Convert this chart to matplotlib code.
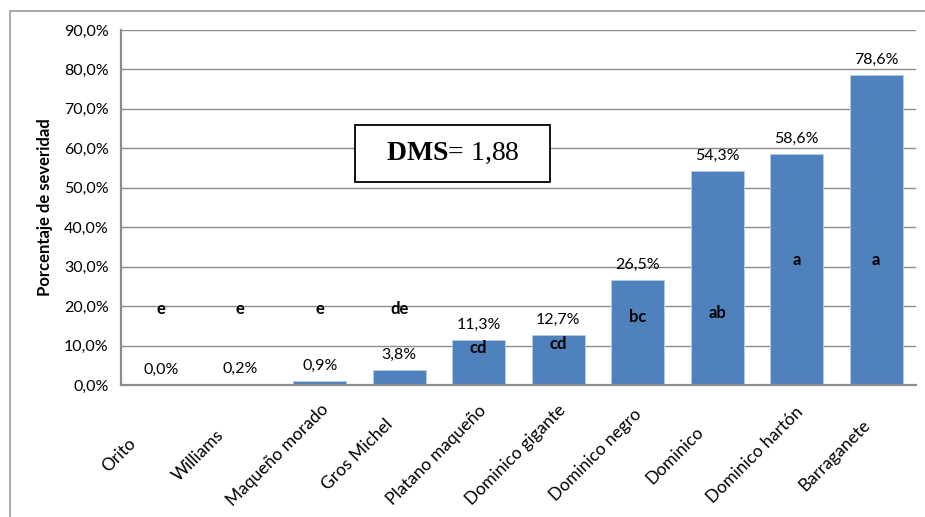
import matplotlib
matplotlib.use("Agg")
import matplotlib.pyplot as plt
import matplotlib.transforms as mtransforms
from matplotlib.patches import Rectangle
from matplotlib.ticker import FuncFormatter

# ── data ─────────────────────────────────────────────────────────────────────
cultivars = ["Orito", "Williams", "Maqueño morado", "Gros Michel",
             "Platano maqueño", "Dominico gigante", "Dominico negro",
             "Dominico", "Dominico hartón", "Barraganete"]
severity = [0.0, 0.2, 0.9, 3.8, 11.3, 12.7, 26.5, 54.3, 58.6, 78.6]
groups = ["e", "e", "e", "de", "cd", "cd", "bc", "ab", "a", "a"]
group_pos = [19.3, 19.3, 19.3, 19.3, 9.4, 10.4, 17.2, 18.3, 31.7, 31.7]
dms = "1,88"

BLUE = "#4F81BD"
GRID = "#8c8c8c"
FONT = "Lato"

plt.rcParams["mathtext.fontset"] = "custom"
plt.rcParams["mathtext.rm"] = "Liberation Serif"
plt.rcParams["mathtext.bf"] = "Liberation Serif:bold"


def pct(v):
    return f"{v:.1f}%".replace(".", ",")


fig = plt.figure(figsize=(9.25, 5.17), dpi=100)
fig.patch.set_facecolor("white")

# outer chart frame (only top and left edges fall inside the image)
fig.patches.append(Rectangle((10 / 925, -0.2), 1.2, 0.2 + 1 - 11 / 517,
                             transform=fig.transFigure, fill=False,
                             edgecolor="#999999", linewidth=1.2))

ax = fig.add_axes([121 / 925, 1 - 385 / 517, 795 / 925, 355 / 517])
x = range(len(cultivars))
bars = ax.bar(x, severity, width=0.67, color=BLUE, edgecolor="#b9cde5",
              linewidth=0.6, zorder=3)

ax.set_ylim(0, 90)
ax.set_xlim(-0.5, len(cultivars) - 0.5)
ax.set_yticks(range(0, 91, 10))
ax.yaxis.set_major_formatter(FuncFormatter(lambda v, _: pct(v)))
ax.grid(axis="y", color=GRID, linewidth=1.0, zorder=0)
ax.set_axisbelow(True)

for side in ("top", "right"):
    ax.spines[side].set_visible(False)
for side in ("left", "bottom"):
    ax.spines[side].set_color("#8c8c8c")
    ax.spines[side].set_linewidth(1.6)
    ax.spines[side].set_zorder(4)

ax.tick_params(axis="y", length=0, pad=9, labelsize=11.5)
ax.tick_params(axis="x", length=0, pad=0)
for lab in ax.get_yticklabels():
    lab.set_fontfamily(FONT)

# rotated category labels, centred down-left of each category
ax.set_xticks(list(x))
ax.set_xticklabels(cultivars, rotation=45, ha="center", va="center",
                   rotation_mode="anchor", fontsize=12.5, fontfamily=FONT)
shift = mtransforms.ScaledTranslation(-42 / 100, -70 / 100, fig.dpi_scale_trans)
for lab in ax.get_xticklabels():
    lab.set_transform(lab.get_transform() + shift)

ax.set_ylabel("Porcentaje de severidad", fontsize=12, fontweight="bold",
              fontfamily=FONT)
ax.yaxis.set_label_coords(-0.086, 0.5)

# value labels above each bar
for rect, v in zip(bars, severity):
    ax.annotate(pct(v), (rect.get_x() + rect.get_width() / 2, v),
                xytext=(0, 6), textcoords="offset points",
                ha="center", va="bottom", fontsize=11.5, fontfamily=FONT)

# grouping letters
for xi, g, gy in zip(x, groups, group_pos):
    ax.text(xi, gy, g, ha="center", va="center", fontsize=12,
            fontweight="bold", fontfamily=FONT, zorder=5)

# least significant difference box
ax.add_patch(Rectangle((2.44, 51.5), 2.46, 14.4, facecolor="white",
                       edgecolor="black", linewidth=1.3, zorder=5))
ax.text(3.67, 58.7, r"$\mathbf{DMS}$= " + dms, ha="center", va="center",
        fontsize=20, fontfamily="Liberation Serif", zorder=6)

fig.savefig("out.png", dpi=100, facecolor="white")
